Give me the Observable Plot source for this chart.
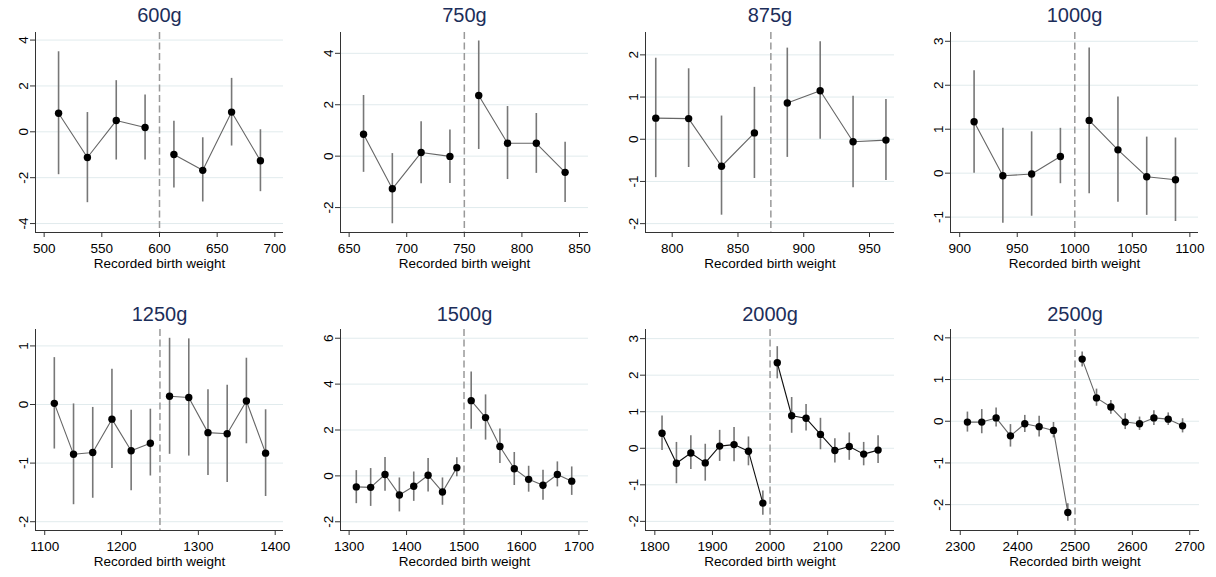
<!DOCTYPE html>
<html>
<head>
<meta charset="utf-8">
<script src="https://cdn.jsdelivr.net/npm/d3@7"></script>
<script src="https://cdn.jsdelivr.net/npm/@observablehq/plot@0.6"></script>
<style>
  body { margin: 0; background: #fff; }
  #chart { position: relative; width: 1216px; height: 577px; font-family: "Liberation Sans", Arial, sans-serif; }
  #chart svg { position: absolute; }
</style>
</head>
<body>
<div id="chart"></div>
<script>
// Cutoff titles
const titles = ["600g", "750g", "875g", "1000g", "1250g", "1500g", "2000g", "2500g"];
const cutoffs = [600, 750, 875, 1000, 1250, 1500, 2000, 2500];

// 600g
const bins600 = [512.5, 537.5, 562.5, 587.5, 612.5, 637.5, 662.5, 687.5];
const est600 = [0.81, -1.12, 0.49, 0.19, -0.99, -1.68, 0.86, -1.26];
const lo600 = [-1.87, -3.09, -1.23, -1.23, -2.45, -3.06, -0.62, -2.61];
const hi600 = [3.49, 0.84, 2.23, 1.61, 0.46, -0.26, 2.33, 0.09];

// 750g
const bins750 = [662.5, 687.5, 712.5, 737.5, 762.5, 787.5, 812.5, 837.5];
const est750 = [0.85, -1.27, 0.14, -0.01, 2.36, 0.50, 0.50, -0.63];
const lo750 = [-0.63, -2.63, -1.07, -1.06, 0.26, -0.91, -0.67, -1.80];
const hi750 = [2.36, 0.10, 1.34, 1.02, 4.48, 1.93, 1.66, 0.54];

// 875g
const bins875 = [787.5, 812.5, 837.5, 862.5, 887.5, 912.5, 937.5, 962.5];
const est875 = [0.50, 0.49, -0.64, 0.15, 0.86, 1.15, -0.06, -0.02];
const lo875 = [-0.91, -0.67, -1.80, -0.93, -0.43, 0.00, -1.15, -0.98];
const hi875 = [1.92, 1.67, 0.55, 1.23, 2.16, 2.31, 1.02, 0.94];

// 1000g
const bins1000 = [912.5, 937.5, 962.5, 987.5, 1012.5, 1037.5, 1062.5, 1087.5];
const est1000 = [1.17, -0.06, -0.02, 0.38, 1.20, 0.53, -0.08, -0.15];
const lo1000 = [0.00, -1.14, -0.98, -0.24, -0.47, -0.66, -0.96, -1.10];
const hi1000 = [2.33, 1.02, 0.94, 1.02, 2.85, 1.73, 0.82, 0.80];

// 1250g
const bins1250 = [1112.5, 1137.5, 1162.5, 1187.5, 1212.5, 1237.5, 1262.5, 1287.5, 1312.5, 1337.5, 1362.5, 1387.5];
const est1250 = [0.02, -0.85, -0.82, -0.25, -0.79, -0.66, 0.14, 0.12, -0.48, -0.50, 0.06, -0.83];
const lo1250 = [-0.76, -1.71, -1.60, -1.09, -1.47, -1.22, -0.85, -0.88, -1.21, -1.33, -0.67, -1.57];
const hi1250 = [0.80, 0.01, -0.05, 0.60, -0.10, -0.08, 1.13, 1.12, 0.25, 0.33, 0.79, -0.09];

// 1500g
const bins1500 = [1312.5, 1337.5, 1362.5, 1387.5, 1412.5, 1437.5, 1462.5, 1487.5, 1512.5, 1537.5, 1562.5, 1587.5, 1612.5, 1637.5, 1662.5, 1687.5];
const est1500 = [-0.48, -0.50, 0.06, -0.83, -0.45, 0.03, -0.70, 0.36, 3.28, 2.54, 1.28, 0.31, -0.15, -0.41, 0.06, -0.23];
const lo1500 = [-1.21, -1.33, -0.67, -1.57, -1.11, -0.70, -1.28, -0.04, 2.03, 1.56, 0.54, -0.42, -0.71, -1.06, -0.48, -0.85];
const hi1500 = [0.23, 0.32, 0.80, -0.09, 0.17, 0.76, -0.09, 0.79, 4.53, 3.53, 2.04, 1.02, 0.42, 0.25, 0.61, 0.39];

// 2000g
const bins2000 = [1812.5, 1837.5, 1862.5, 1887.5, 1912.5, 1937.5, 1962.5, 1987.5, 2012.5, 2037.5, 2062.5, 2087.5, 2112.5, 2137.5, 2162.5, 2187.5];
const est2000 = [0.41, -0.41, -0.13, -0.40, 0.06, 0.10, -0.08, -1.50, 2.34, 0.89, 0.82, 0.38, -0.06, 0.05, -0.16, -0.05];
const lo2000 = [-0.06, -0.97, -0.58, -0.90, -0.36, -0.37, -0.48, -1.83, 1.90, 0.41, 0.47, -0.04, -0.40, -0.33, -0.48, -0.42];
const hi2000 = [0.88, 0.16, 0.34, 0.11, 0.49, 0.57, 0.31, -1.17, 2.78, 1.39, 1.20, 0.82, 0.26, 0.42, 0.16, 0.34];

// 2500g
const bins2500 = [2312.5, 2337.5, 2362.5, 2387.5, 2412.5, 2437.5, 2462.5, 2487.5, 2512.5, 2537.5, 2562.5, 2587.5, 2612.5, 2637.5, 2662.5, 2687.5];
const est2500 = [-0.02, -0.02, 0.08, -0.35, -0.06, -0.13, -0.22, -2.19, 1.49, 0.56, 0.34, -0.02, -0.06, 0.08, 0.05, -0.11];
const lo2500 = [-0.26, -0.30, -0.14, -0.62, -0.27, -0.38, -0.40, -2.40, 1.30, 0.36, 0.17, -0.20, -0.22, -0.10, -0.10, -0.28];
const hi2500 = [0.22, 0.28, 0.32, -0.08, 0.14, 0.12, -0.03, -1.98, 1.66, 0.77, 0.50, 0.18, 0.10, 0.25, 0.20, 0.06];

// Axis tick labels
const xTicks600 = [500, 550, 600, 650, 700];
const xTicks750 = [650, 700, 750, 800, 850];
const xTicks875 = [800, 850, 900, 950];
const xTicks1000 = [900, 950, 1000, 1050, 1100];
const xTicks1250 = [1100, 1200, 1300, 1400];
const xTicks1500 = [1300, 1400, 1500, 1600, 1700];
const xTicks2000 = [1800, 1900, 2000, 2100, 2200];
const xTicks2500 = [2300, 2400, 2500, 2600, 2700];
const yTicks600 = [-4, -2, 0, 2, 4];
const yTicks750 = [-2, 0, 2, 4];
const yTicks875 = [-2, -1, 0, 1, 2];
const yTicks1000 = [-1, 0, 1, 2, 3];
const yTicks1250 = [-2, -1, 0, 1];
const yTicks1500 = [-2, 0, 2, 4, 6];
const yTicks2000 = [-2, -1, 0, 1, 2, 3];
const yTicks2500 = [-2, -1, 0, 1, 2];

const series = [
  [bins600, est600, lo600, hi600],
  [bins750, est750, lo750, hi750],
  [bins875, est875, lo875, hi875],
  [bins1000, est1000, lo1000, hi1000],
  [bins1250, est1250, lo1250, hi1250],
  [bins1500, est1500, lo1500, hi1500],
  [bins2000, est2000, lo2000, hi2000],
  [bins2500, est2500, lo2500, hi2500]
];
const xTicks = [xTicks600, xTicks750, xTicks875, xTicks1000, xTicks1250, xTicks1500, xTicks2000, xTicks2500];
const yTicks = [yTicks600, yTicks750, yTicks875, yTicks1000, yTicks1250, yTicks1500, yTicks2000, yTicks2500];

// Scale extents and frame placement for each panel
const xDomains = [[492.5, 707.5], [642.5, 857.8], [779.7, 969], [892, 1107.5],
                  [1088, 1410.8], [1285, 1716.7], [1783.8, 2216], [2283, 2717]];
const yDomains = [[-4.39, 4.33], [-2.97, 4.81], [-2.21, 2.53], [-1.35, 3.2],
                  [-2.15, 1.28], [-2.38, 6.38], [-2.25, 3.25], [-2.62, 2.2]];
const leftMargins = [35, 36, 37, 38, 35, 36, 37, 38];
const rightMargins = [21, 20, 18, 18, 21, 20, 18, 17];

const PANEL_W = 304, PANEL_H = 288;
const chart = document.getElementById("chart");

titles.forEach((title, i) => {
  const [bx, be, bl, bh] = series[i];
  const rows = bx.map((x, j) => ({x, est: be[j], lo: bl[j], hi: bh[j], side: x > cutoffs[i]}));
  const row = Math.floor(i / 4), col = i % 4;
  const top = row === 0 ? 32 : 40;
  const bottom = row === 0 ? 56 : 47;
  const lineColor = title === "2000g" ? "#111" : "#666";

  const svg = Plot.plot({
    width: PANEL_W,
    height: PANEL_H,
    marginTop: top,
    marginBottom: bottom,
    marginLeft: leftMargins[i],
    marginRight: rightMargins[i],
    style: {fontFamily: "'Liberation Sans', Arial, sans-serif", fontSize: "14px", color: "#000", background: "transparent", overflow: "visible"},
    x: {domain: xDomains[i]},
    y: {domain: yDomains[i]},
    marks: [
      Plot.gridY(yTicks[i], {stroke: "#e1ebed", strokeOpacity: 1, strokeWidth: 1}),
      Plot.ruleX([cutoffs[i]], {stroke: "#999", strokeWidth: 1.5, strokeDasharray: "7,3.5"}),
      Plot.ruleX(rows, {x: "x", y1: "lo", y2: "hi", stroke: "#777", strokeWidth: 1.6}),
      Plot.line(rows, {x: "x", y: "est", z: "side", stroke: lineColor, strokeWidth: 1.1}),
      Plot.dot(rows, {x: "x", y: "est", r: 3.7, fill: "#000", stroke: "none"}),
      Plot.ruleX([xDomains[i][0]], {stroke: "#333", strokeWidth: 1}),
      Plot.ruleY([yDomains[i][0]], {stroke: "#333", strokeWidth: 1}),
      Plot.axisX(xTicks[i], {tickSize: 5, tickPadding: 6, fontSize: 13.5, label: null, stroke: "#333", tickFormat: d => String(d)}),
      Plot.axisY(yTicks[i], {tickSize: 5, tickPadding: 3, tickRotate: -90, fontSize: 13.5, label: null, stroke: "#333", tickFormat: d => String(d)}),
      Plot.text(["Recorded birth weight"], {frameAnchor: "bottom", lineAnchor: "middle", dy: 31, fontSize: 13.5, fill: "#000"}),
      Plot.text([title], {frameAnchor: "top", lineAnchor: "middle", dy: row === 0 ? -17 : -15, fontSize: 20, fill: "#1c2e5a"})
    ]
  });
  svg.style.left = (col * PANEL_W) + "px";
  svg.style.top = (row === 0 ? 0 : 289) + "px";
  chart.appendChild(svg);
});
</script>
</body>
</html>
